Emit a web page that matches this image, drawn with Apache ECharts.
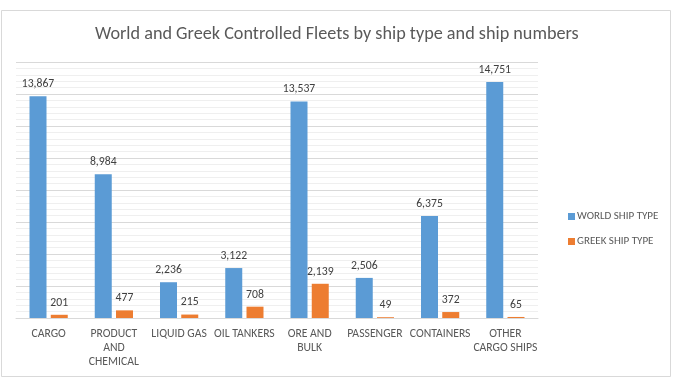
<!DOCTYPE html>
<html><head><meta charset="utf-8">
<script src="https://cdn.jsdelivr.net/npm/echarts@6/dist/echarts.min.js"></script>
<style>html,body{margin:0;padding:0;background:#fff}#c{width:680px;height:380px}</style>
</head><body><div id="c"></div>
<script>
const categories = ['CARGO', 'PRODUCT\nAND\nCHEMICAL', 'LIQUID GAS', 'OIL TANKERS', 'ORE AND\nBULK', 'PASSENGER', 'CONTAINERS', 'OTHER\nCARGO SHIPS'];
const worldShips = [13867, 8984, 2236, 3122, 13537, 2506, 6375, 14751];
const greekShips = [201, 477, 215, 708, 2139, 49, 372, 65];
const seriesNames = ['WORLD SHIP TYPE', 'GREEK SHIP TYPE'];
const titleText = 'World and Greek Controlled Fleets by ship type and ship numbers';

const FONT = 'Carlito, Lato, sans-serif';
const chart = echarts.init(document.getElementById('c'), null, {renderer: 'canvas'});
const fmt = v => v.toLocaleString('en-US');
const labelCfg = {show: true, position: 'top', distance: 6, color: '#404040', fontSize: 11.7, fontFamily: FONT, formatter: p => fmt(p.value)};
chart.setOption({
  animation: false,
  backgroundColor: '#fff',
  graphic: [{type: 'rect', shape: {x: 1.5, y: 10.5, width: 669, height: 366}, style: {fill: 'none', stroke: '#d9d9d9', lineWidth: 1}, z: -1}],
  title: {text: titleText, left: 90, top: 20, textStyle: {color: '#595959', fontSize: 18.2, fontWeight: 'normal', fontFamily: FONT}},
  legend: {
    orient: 'vertical', left: 563, top: 206, itemWidth: 7, itemHeight: 7, itemGap: 14,
    icon: 'rect',
    textStyle: {color: '#595959', fontSize: 11, fontFamily: FONT, padding: [0, 0, 0, -3]},
    data: seriesNames
  },
  grid: {left: 16, right: 142, top: 62, bottom: 62},
  xAxis: {
    type: 'category', data: categories,
    axisLine: {lineStyle: {color: '#d9d9d9'}},
    axisTick: {show: false},
    axisLabel: {color: '#595959', fontSize: 11.7, fontFamily: FONT, lineHeight: 14, margin: 9, interval: 0}
  },
  yAxis: {
    type: 'value', min: 0, max: 16000, interval: 2000,
    axisLabel: {show: false}, axisLine: {show: false}, axisTick: {show: false},
    splitLine: {lineStyle: {color: '#d9d9d9'}},
    minorTick: {show: false, splitNumber: 5},
    minorSplitLine: {show: true, lineStyle: {color: '#efefef'}}
  },
  series: [
    {name: seriesNames[0], type: 'bar', data: worldShips, barWidth: 17, barGap: '25%', itemStyle: {color: '#5B9BD5'}, label: labelCfg},
    {name: seriesNames[1], type: 'bar', data: greekShips, barWidth: 17, itemStyle: {color: '#ED7D31'}, label: labelCfg}
  ]
});
</script></body></html>
